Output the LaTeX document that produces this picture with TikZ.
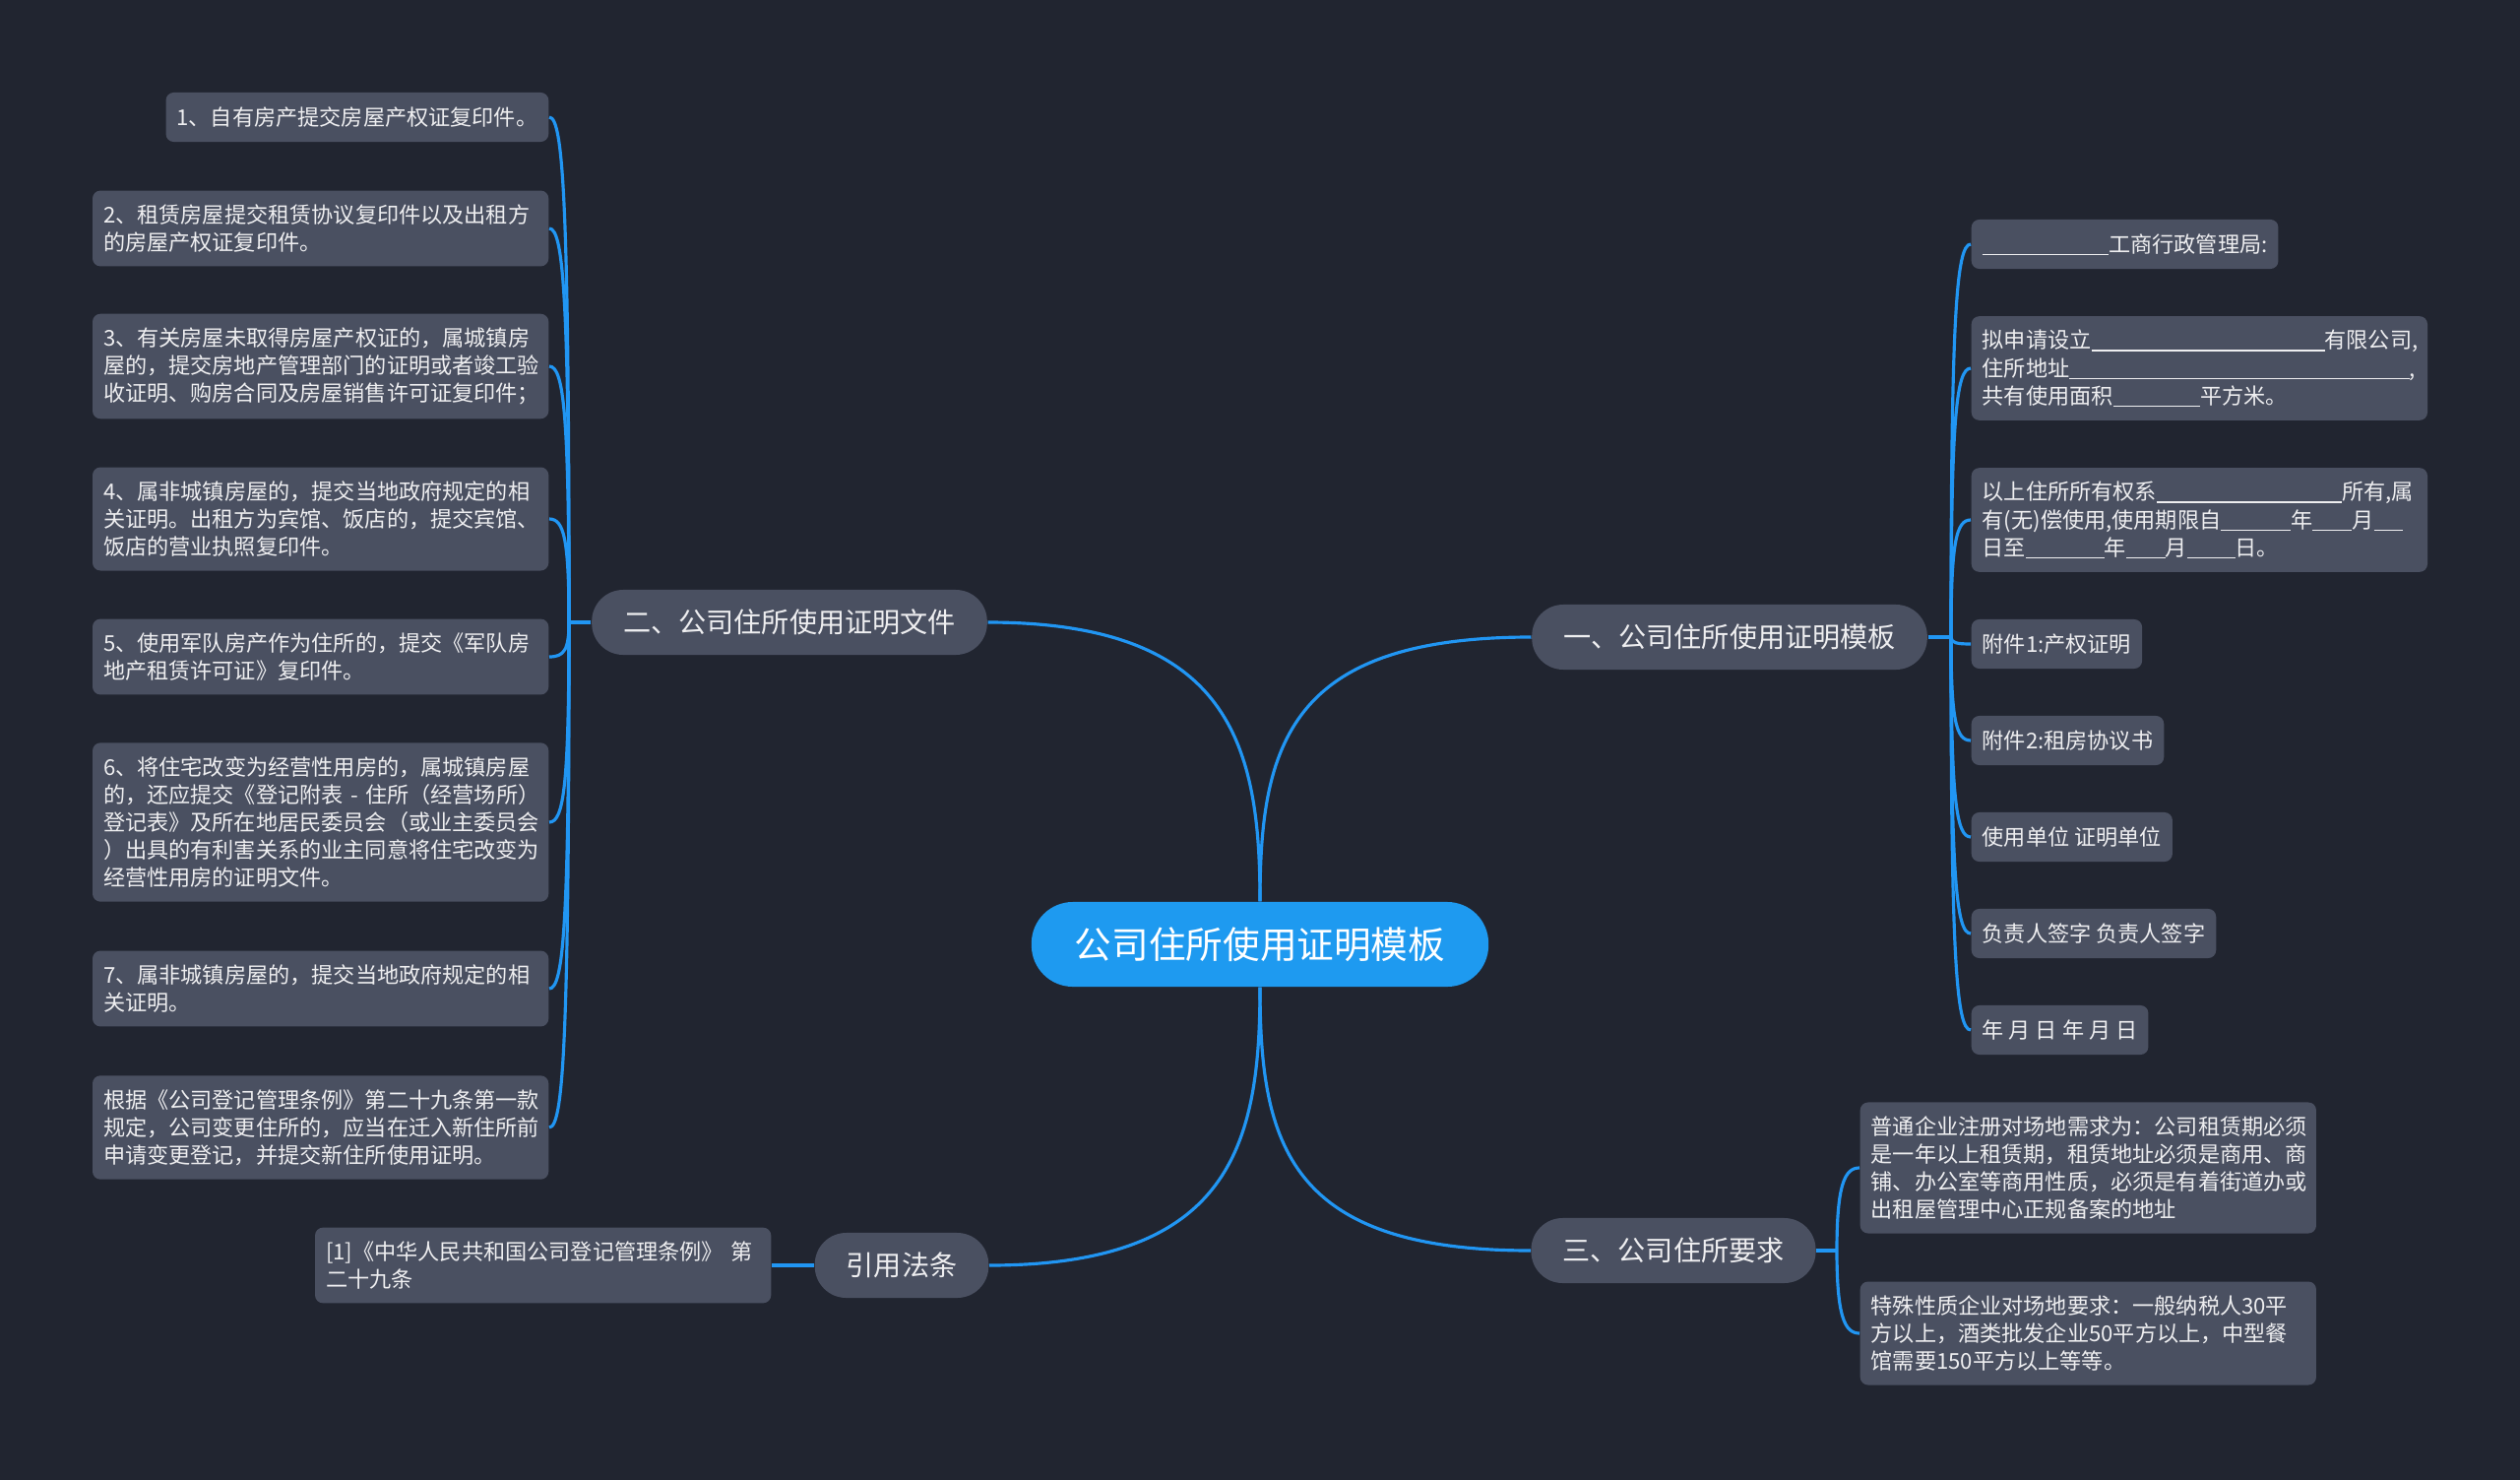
\documentclass[tikz,border=0pt]{standalone}
\usepackage{fontspec}
\setmainfont{Noto Sans CJK SC}
\usetikzlibrary{calc}
\definecolor{bgdark}{RGB}{33,37,48}
\definecolor{cardgray}{RGB}{74,80,97}
\definecolor{rootblue}{RGB}{30,154,240}
\definecolor{linkblue}{RGB}{33,150,243}
\definecolor{textwhite}{RGB}{238,238,240}
\newcommand{\blank}[1]{\rule[-0.12em]{#1em}{0.05em}}

\begin{document}
\begin{tikzpicture}[x=0.01cm, y=0.01cm,
    root/.style={rectangle, rounded corners=0.42cm, fill=rootblue, text=white, minimum height=0.86cm, inner xsep=0.44cm, font=\fontsize{10.7pt}{13pt}\selectfont},
    topic/.style={rectangle, rounded corners=0.32cm, fill=cardgray, text=textwhite, minimum height=0.66cm, inner xsep=0.32cm, font=\fontsize{8pt}{10pt}\selectfont},
    leaf/.style={rectangle, rounded corners=0.08cm, fill=cardgray, text=textwhite, align=left, inner xsep=0.11cm, inner ysep=0.14cm, minimum height=0.5cm, font=\fontsize{6.3pt}{8pt}\selectfont},
    wide/.style={leaf, text width=4.41cm},
    link/.style={linkblue, line width=0.9pt},
    main/.style={out distance=1.6cm, in distance=2.45cm},
]
    \fill[bgdark] (0,0) rectangle (2560,-1503);
    \useasboundingbox (0,0) rectangle (2560,-1503);

    % centre and main topics
    \node[root] (c) at (1280,-959) {公司住所使用证明模板};
    \node[topic] (t1) at (1757,-647) {一、公司住所使用证明模板};
    \node[topic] (t2) at (802,-632) {二、公司住所使用证明文件};
    \node[topic] (t3) at (1700,-1270) {三、公司住所要求};
    \node[topic] (t4) at (916,-1285) {引用法条};

    \coordinate (j1) at (1982,-647);
    \coordinate (j2) at (578,-632);
    \coordinate (j3) at (1866,-1270);

    % left: documents
    \node[leaf, anchor=east] (l1) at (558,-119) {1、自有房产提交房屋产权证复印件。};
    \node[wide, anchor=east] (l2) at (558,-232) {2、租赁房屋提交租赁协议复印件以及出租方\\的房屋产权证复印件。};
    \node[wide, anchor=east] (l3) at (558,-372) {3、有关房屋未取得房屋产权证的，属城镇房\\屋的，提交房地产管理部门的证明或者竣工验\\收证明、购房合同及房屋销售许可证复印件；};
    \node[wide, anchor=east] (l4) at (558,-527) {4、属非城镇房屋的，提交当地政府规定的相\\关证明。出租方为宾馆、饭店的，提交宾馆、\\饭店的营业执照复印件。};
    \node[wide, anchor=east] (l5) at (558,-667) {5、使用军队房产作为住所的，提交《军队房\\地产租赁许可证》复印件。};
    \node[wide, anchor=east] (l6) at (558,-835) {6、将住宅改变为经营性用房的，属城镇房屋\\\mbox{的，还应提交《登记附表 - 住所（经营场所）}\\登记表》及所在地居民委员会（或业主委员会\\）出具的有利害关系的业主同意将住宅改变为\\经营性用房的证明文件。};
    \node[wide, anchor=east] (l7) at (558,-1004) {7、属非城镇房屋的，提交当地政府规定的相\\关证明。};
    \node[wide, anchor=east] (l8) at (558,-1145) {根据《公司登记管理条例》第二十九条第一款\\规定，公司变更住所的，应当在迁入新住所前\\申请变更登记，并提交新住所使用证明。};
    \node[wide, anchor=east] (ref) at (784,-1285) {\mbox{[1]《中华人民共和国公司登记管理条例》 第}\\二十九条};

    % right: template
    \node[leaf, anchor=west] (r1) at (2002,-248) {\blank{5.8}工商行政管理局:};
    \node[wide, anchor=west] (r2) at (2002,-374) {拟申请设立\blank{10.7}有限公司,\\住所地址\blank{15.6},\\共有使用面积\blank{4}平方米。};
    \node[wide, anchor=west] (r3) at (2002,-528) {以上住所所有权系\blank{8.5}所有,属\\有(无)偿使用,使用期限自\blank{3.2}年\blank{1.8}月\blank{1.35}\\日至\blank{3.6}年\blank{1.8}月\blank{2.2}日。};
    \node[leaf, anchor=west] (r4) at (2002,-654) {附件1:产权证明};
    \node[leaf, anchor=west] (r5) at (2002,-752) {附件2:租房协议书};
    \node[leaf, anchor=west] (r6) at (2002,-850) {使用单位 证明单位};
    \node[leaf, anchor=west] (r7) at (2002,-948) {负责人签字 负责人签字};
    \node[leaf, anchor=west] (r8) at (2002,-1046) {年 月 日 年 月 日};

    % right bottom: requirements
    \node[wide, anchor=west] (s1) at (1889,-1186) {普通企业注册对场地需求为：公司租赁期必须\\是一年以上租赁期，租赁地址必须是商用、商\\铺、办公室等商用性质，必须是有着街道办或\\出租屋管理中心正规备案的地址};
    \node[wide, anchor=west] (s2) at (1889,-1354) {特殊性质企业对场地要求：一般纳税人30平\\方以上，酒类批发企业50平方以上，中型餐\\馆需要150平方以上等等。};

    % connectors
    \draw[link] (c.north) to[main, out=90, in=180] (t1.west);
    \draw[link] (c.north) to[main, out=90, in=0] (t2.east);
    \draw[link] (c.south) to[main, out=-90, in=180] (t3.west);
    \draw[link] (c.south) to[main, out=-90, in=0] (t4.east);

    \draw[link] (t1.east) -- (j1);
    \draw[link] (t2.west) -- (j2);
    \draw[link] (t3.east) -- (j3);
    \draw[link] (ref.east) -- (t4.west);

    \foreach \k in {1,...,8}
        \draw[link] (j1) .. controls ($(j1)!0.8!(j1|-r\k.west)$) and ($(r\k.west)+(-15,0)$) .. (r\k.west);
    \foreach \k in {1,...,8}
        \draw[link] (j2) .. controls ($(j2)!0.8!(j2|-l\k.east)$) and ($(l\k.east)+(15,0)$) .. (l\k.east);
    \foreach \k in {1,2}
        \draw[link] (j3) .. controls ($(j3)!0.8!(j3|-s\k.west)$) and ($(s\k.west)+(-15,0)$) .. (s\k.west);
\end{tikzpicture}
\end{document}
